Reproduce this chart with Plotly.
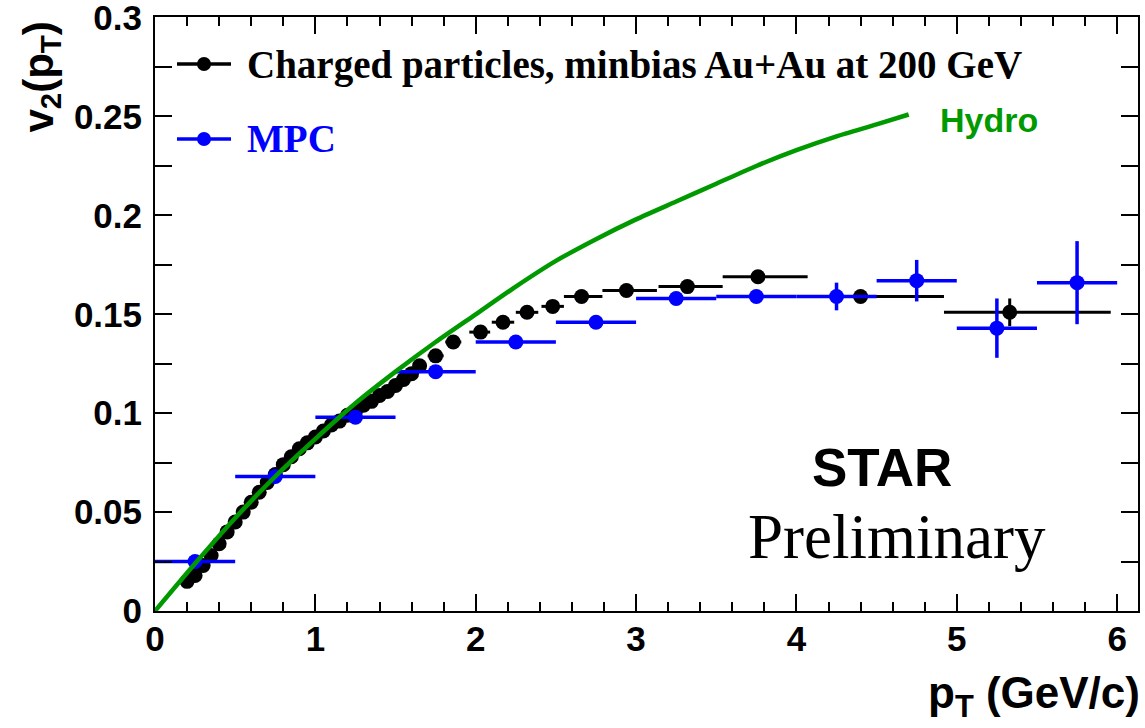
import plotly.graph_objects as go

# ---------------- data ----------------
# Charged particles, minbias Au+Au at 200 GeV (STAR)
ch_pt = [0.20, 0.25, 0.30, 0.35, 0.40, 0.45, 0.50, 0.55, 0.60, 0.65,
         0.70, 0.75, 0.80, 0.85, 0.90, 0.95, 1.00, 1.05, 1.10, 1.15,
         1.20, 1.25, 1.30, 1.35, 1.40, 1.45, 1.50, 1.55, 1.60, 1.65,
         1.75, 1.86, 2.03, 2.17, 2.32, 2.48, 2.66, 2.94, 3.32, 3.76,
         4.40, 5.33]
ch_v2 = [0.015, 0.018, 0.023, 0.028, 0.034, 0.040, 0.045, 0.050, 0.055, 0.060,
         0.065, 0.069, 0.074, 0.078, 0.082, 0.085, 0.088, 0.091, 0.094, 0.096,
         0.099, 0.101, 0.104, 0.106, 0.109, 0.111, 0.114, 0.117, 0.120, 0.124,
         0.129, 0.136, 0.141, 0.146, 0.151, 0.154, 0.159, 0.162, 0.164, 0.169,
         0.159, 0.151]
ch_ex_lo = [0]*30 + [0.05, 0.05, 0.07, 0.07, 0.07, 0.07, 0.11, 0.15, 0.18, 0.22, 0.33, 0.41]
ch_ex_hi = [0]*30 + [0.05, 0.05, 0.06, 0.07, 0.07, 0.07, 0.13, 0.19, 0.22, 0.31, 0.52, 0.63]
ch_ey = [0.001]*39 + [0.003, 0.003, 0.007]

# MPC
mpc_pt = [0.25, 0.75, 1.25, 1.75, 2.25, 2.75, 3.25, 3.75, 4.25, 4.75, 5.25, 5.75]
mpc_v2 = [0.025, 0.068, 0.098, 0.121, 0.136, 0.146, 0.158, 0.159, 0.159, 0.167, 0.143, 0.166]
mpc_ex = [0.25]*12
mpc_ey = [0.001, 0.001, 0.001, 0.002, 0.002, 0.002, 0.003, 0.003, 0.007, 0.0105, 0.015, 0.021]

# Hydro
hy_pt = [0.0, 0.25, 0.5, 0.75, 1.0, 1.25, 1.5, 1.75, 2.0, 2.25, 2.5, 2.75,
         3.0, 3.25, 3.5, 3.75, 4.0, 4.25, 4.5, 4.7]
hy_v2 = [0.000, 0.024, 0.047, 0.068, 0.087, 0.105, 0.121, 0.136, 0.150, 0.164,
         0.177, 0.188, 0.198, 0.207, 0.216, 0.225, 0.233, 0.240, 0.246, 0.251]

x_ticks = [0, 1, 2, 3, 4, 5, 6]
y_ticks = [0, 0.05, 0.1, 0.15, 0.2, 0.25, 0.3]
y_tick_labels = ["0", "0.05", "0.1", "0.15", "0.2", "0.25", "0.3"]

BLUE = "#0000ff"
GREEN = "#009a00"

fig = go.Figure()

fig.add_trace(go.Scatter(
    x=ch_pt, y=ch_v2, mode="markers",
    marker=dict(color="black", size=15, symbol="circle"),
    error_x=dict(type="data", symmetric=False, array=ch_ex_hi, arrayminus=ch_ex_lo,
                 color="black", thickness=3, width=0),
    error_y=dict(type="data", array=ch_ey, color="black", thickness=3, width=0),
    showlegend=False))

fig.add_trace(go.Scatter(
    x=mpc_pt, y=mpc_v2, mode="markers",
    marker=dict(color=BLUE, size=15, symbol="circle"),
    error_x=dict(type="data", array=mpc_ex, color=BLUE, thickness=3.5, width=0),
    error_y=dict(type="data", array=mpc_ey, color=BLUE, thickness=3.5, width=0),
    showlegend=False))

fig.add_trace(go.Scatter(
    x=hy_pt, y=hy_v2, mode="lines",
    line=dict(color=GREEN, width=4.5, shape="spline", smoothing=0.6),
    showlegend=False))

# ---------------- layout geometry ----------------
L, R, T, B = 155, 7, 17, 117
W, H = 1145, 728
PW, PH = W - L - R, H - T - B


def px(X):
    return (X - L) / PW


def py(Y):
    return (H - B - Y) / PH


tickfont = dict(family="Liberation Sans", size=35, color="black", weight="bold")

fig.update_layout(
    width=W, height=H,
    margin=dict(l=L, r=R, t=T, b=B, pad=0, autoexpand=False),
    paper_bgcolor="white", plot_bgcolor="white",
    xaxis=dict(range=[0, 6.13], tickvals=x_ticks, ticktext=[str(v) for v in x_ticks],
               ticks="inside", ticklen=17, tickwidth=2, tickcolor="black",
               minor=dict(dtick=0.2, ticks="inside", ticklen=9, tickwidth=2, tickcolor="black"),
               showline=True, linecolor="black", linewidth=2, mirror="ticks",
               showgrid=False, zeroline=False, tickfont=tickfont, ticklabelstandoff=-4,
               automargin=False, ticklabeloverflow="allow"),
    yaxis=dict(range=[0, 0.3003], tickvals=y_ticks, ticktext=y_tick_labels,
               ticks="inside", ticklen=17, tickwidth=2, tickcolor="black",
               minor=dict(dtick=0.025, ticks="inside", ticklen=17, tickwidth=2, tickcolor="black"),
               showline=True, linecolor="black", linewidth=2, mirror="ticks",
               showgrid=False, zeroline=False, tickfont=tickfont, ticklabelstandoff=4,
               automargin=False, ticklabeloverflow="allow"),
)

ann = []
# axis titles
ann.append(dict(xref="paper", yref="paper", x=px(41), y=py(20), xanchor="center", yanchor="top",
                text="v<sub>2</sub>(p<sub>T</sub>)", textangle=-90, showarrow=False,
                font=dict(family="Liberation Sans", size=42, color="black", weight="bold")))
ann.append(dict(xref="paper", yref="paper", x=px(1142), y=py(696), xanchor="right", yanchor="middle",
                text="p<sub>T</sub> (GeV/c)", showarrow=False,
                font=dict(family="Liberation Sans", size=44, color="black", weight="bold")))
# legend texts
ann.append(dict(xref="paper", yref="paper", x=px(245), y=py(65), xanchor="left", yanchor="middle",
                text="Charged particles, minbias Au+Au at 200 GeV", showarrow=False,
                font=dict(family="Liberation Serif", size=39, color="black", weight="bold")))
ann.append(dict(xref="paper", yref="paper", x=px(245), y=py(139), xanchor="left", yanchor="middle",
                text="MPC", showarrow=False,
                font=dict(family="Liberation Serif", size=39, color=BLUE, weight="bold")))
# Hydro label
ann.append(dict(xref="paper", yref="paper", x=px(938), y=py(120), xanchor="left", yanchor="middle",
                text="Hydro", showarrow=False,
                font=dict(family="Liberation Sans", size=34, color=GREEN, weight="bold")))
# STAR Preliminary
ann.append(dict(xref="paper", yref="paper", x=px(882), y=py(467), xanchor="center", yanchor="middle",
                text="STAR", showarrow=False,
                font=dict(family="Liberation Sans", size=53, color="black", weight="bold")))
ann.append(dict(xref="paper", yref="paper", x=px(897), y=py(537), xanchor="center", yanchor="middle",
                text="Preliminary", showarrow=False,
                font=dict(family="Liberation Serif", size=63, color="black")))
fig.update_layout(annotations=ann)

# legend symbols
shapes = []
for Y, col in [(64, "black"), (139, BLUE)]:
    shapes.append(dict(type="line", xref="paper", yref="paper", x0=px(177), x1=px(231),
                       y0=py(Y), y1=py(Y), line=dict(color=col, width=3.5)))
    shapes.append(dict(type="circle", xref="paper", yref="paper", xsizemode="pixel", ysizemode="pixel",
                       xanchor=px(204), yanchor=py(Y), x0=-7, x1=7, y0=-7, y1=7,
                       fillcolor=col, line=dict(color=col, width=0)))
fig.update_layout(shapes=shapes)

fig.write_html("out.html", config={"displayModeBar": False},
               post_script="document.body.style.margin='0';document.body.style.overflow='hidden';")
